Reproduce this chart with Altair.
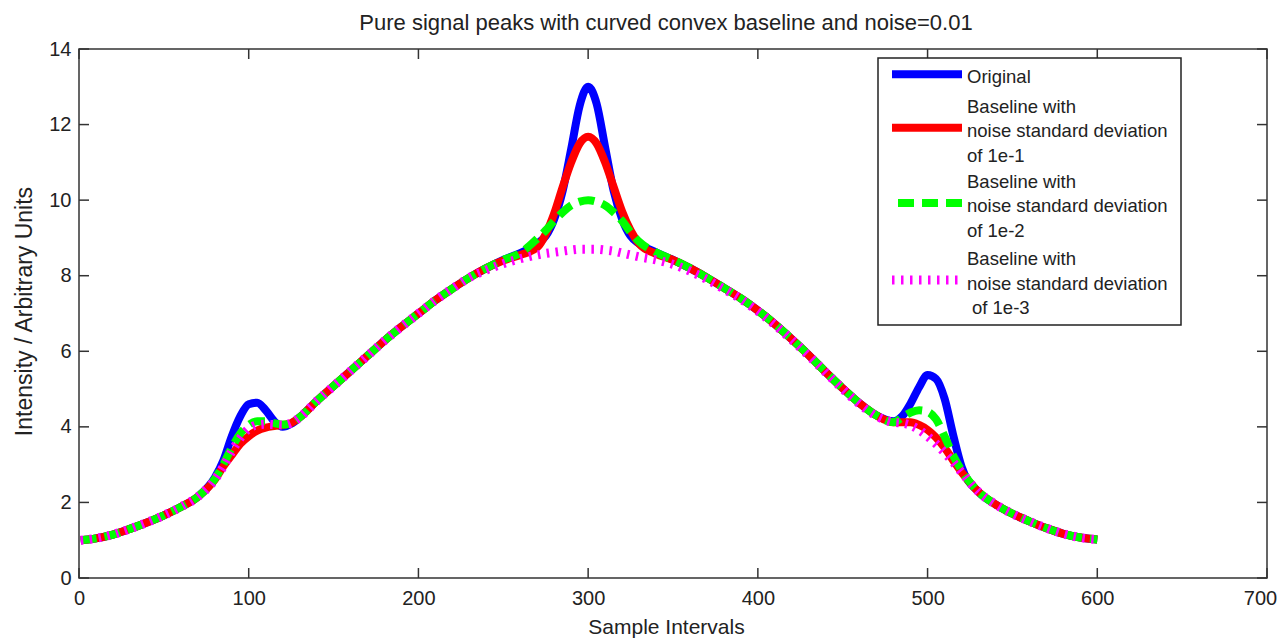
import altair as alt
import pandas as pd

# ---------------- data ----------------
x_vals = [1, 10, 20, 30, 40, 50, 60, 70, 80, 85, 90, 95, 100, 105, 110, 115, 120, 125, 130,
          140, 150, 160, 170, 180, 190, 200, 210, 220, 230, 240, 250, 260,
          270, 275, 280, 285, 290, 295, 300, 305, 310, 315, 320, 325, 330,
          340, 350, 360, 370, 380, 390, 400, 410, 420, 430, 440, 450, 460, 470, 480,
          485, 490, 495, 500, 505, 510, 515, 520,
          530, 540, 550, 560, 570, 580, 590, 600]

original = [1.0, 1.05, 1.15, 1.3, 1.47, 1.66, 1.88, 2.15, 2.65, 3.1, 3.75, 4.28, 4.6, 4.64, 4.44, 4.15, 4.0, 4.08, 4.25,
            4.68, 5.08, 5.48, 5.88, 6.28, 6.65, 7.0, 7.35, 7.66, 7.95, 8.2, 8.42, 8.6,
            8.85, 9.05, 9.5, 10.25, 11.35, 12.5, 13.0, 12.55, 11.4, 10.25, 9.5, 9.05, 8.85,
            8.62, 8.42, 8.2, 7.95, 7.68, 7.4, 7.08, 6.72, 6.32, 5.9, 5.45, 5.02, 4.62, 4.3, 4.15,
            4.28, 4.62, 5.05, 5.37, 5.27, 4.75, 3.8, 2.95,
            2.28, 1.95, 1.7, 1.5, 1.32, 1.17, 1.07, 1.02]

noise_1e1 = [1.0, 1.05, 1.15, 1.3, 1.47, 1.66, 1.88, 2.15, 2.6, 2.95, 3.25, 3.55, 3.75, 3.9, 3.98, 4.02, 4.05, 4.1, 4.25,
             4.68, 5.08, 5.48, 5.88, 6.28, 6.65, 7.0, 7.35, 7.66, 7.95, 8.2, 8.4, 8.55,
             8.75, 9.1, 9.65, 10.35, 11.0, 11.5, 11.68, 11.5, 11.0, 10.35, 9.7, 9.2, 8.85,
             8.58, 8.42, 8.2, 7.95, 7.68, 7.4, 7.08, 6.72, 6.32, 5.9, 5.45, 5.02, 4.62, 4.3, 4.12,
             4.12, 4.12, 4.05, 3.92, 3.72, 3.45, 3.12, 2.8,
             2.28, 1.95, 1.7, 1.5, 1.32, 1.17, 1.07, 1.02]

noise_1e2 = [1.0, 1.05, 1.15, 1.3, 1.47, 1.66, 1.88, 2.15, 2.62, 3.0, 3.45, 3.82, 4.05, 4.15, 4.15, 4.1, 4.06, 4.1, 4.25,
             4.68, 5.08, 5.48, 5.88, 6.28, 6.65, 7.0, 7.35, 7.66, 7.95, 8.2, 8.42, 8.6,
             8.98, 9.2, 9.45, 9.68, 9.86, 9.96, 10.0, 9.96, 9.86, 9.68, 9.45, 9.15, 8.9,
             8.62, 8.42, 8.2, 7.95, 7.68, 7.4, 7.08, 6.72, 6.32, 5.9, 5.45, 5.02, 4.62, 4.3, 4.12,
             4.25, 4.38, 4.44, 4.4, 4.2, 3.75, 3.25, 2.85,
             2.28, 1.95, 1.7, 1.5, 1.32, 1.17, 1.07, 1.02]

noise_1e3 = [1.0, 1.05, 1.15, 1.3, 1.47, 1.66, 1.88, 2.15, 2.6, 2.95, 3.35, 3.7, 3.95, 4.05, 4.07, 4.06, 4.05, 4.1, 4.25,
             4.68, 5.08, 5.48, 5.88, 6.28, 6.65, 7.0, 7.35, 7.66, 7.95, 8.15, 8.32, 8.45,
             8.55, 8.59, 8.62, 8.65, 8.68, 8.7, 8.7, 8.7, 8.68, 8.65, 8.6, 8.55, 8.5,
             8.42, 8.3, 8.12, 7.9, 7.65, 7.38, 7.06, 6.7, 6.3, 5.88, 5.44, 5.0, 4.6, 4.28, 4.12,
             4.1, 4.04, 3.92, 3.75, 3.55, 3.32, 3.07, 2.8,
             2.28, 1.95, 1.7, 1.5, 1.32, 1.17, 1.07, 1.02]

series_names = ["Original",
                "Baseline with noise standard deviation of 1e-1",
                "Baseline with noise standard deviation of 1e-2",
                "Baseline with noise standard deviation of 1e-3"]
legend_lines = [["Original"],
                ["Baseline with", "noise standard deviation", "of 1e-1"],
                ["Baseline with", "noise standard deviation", "of 1e-2"],
                ["Baseline with", "noise standard deviation"]]
legend_extra = "of 1e-3"   # last line of the last entry, slightly indented in the reference
series_colors = ["#0000FF", "#FF0000", "#00FF00", "#FF00FF"]

x_ticks = [0, 100, 200, 300, 400, 500, 600, 700]
y_ticks = [0, 2, 4, 6, 8, 10, 12, 14]

title_text = "Pure signal peaks with curved convex baseline and noise=0.01"
x_title = "Sample Intervals"
y_title = "Intensity / Arbitrary Units"

# ---------------- layout / style ----------------
W, H = 1188, 529
FONT = "Liberation Sans"
INK = "#222222"
xs = alt.Scale(domain=[0, 700], nice=False, zero=False)
ys = alt.Scale(domain=[0, 14], nice=False, zero=False)

styles = [
    dict(strokeWidth=8),
    dict(strokeWidth=8),
    dict(strokeWidth=8, strokeDash=[16, 8]),
    dict(strokeWidth=9, strokeDash=[2.5, 6.5]),
]

x_axis = alt.Axis(values=x_ticks, format="d", ticks=False, tickSize=0, domain=False, grid=False,
                  labelFont=FONT, labelFontSize=20, labelColor=INK, labelPadding=10,
                  labelFlush=False, labelOverlap=False,
                  labelOffset={"condition": {"test": "datum.value >= 700", "value": -7}, "value": 0},
                  title=x_title, titleFont=FONT, titleFontSize=21, titleFontWeight="normal",
                  titleColor=INK, titleX=587, titleY=55, titleBaseline="alphabetic")
y_axis = alt.Axis(values=y_ticks, format="d", ticks=False, tickSize=0, domain=False, grid=False,
                  labelFont=FONT, labelFontSize=20, labelColor=INK, labelPadding=8,
                  labelFlush=False, labelOverlap=False,
                  title=y_title, titleFont=FONT, titleFontSize=23, titleFontWeight="normal",
                  titleColor=INK, titleAngle=270, titleX=-48, titleY=262,
                  titleAlign="center", titleBaseline="alphabetic")

all_vals = [original, noise_1e1, noise_1e2, noise_1e3]
layers = []
for i, (name, vals, col, st) in enumerate(zip(series_names, all_vals, series_colors, styles)):
    df = pd.DataFrame({"x": x_vals, "y": vals, "series": name})
    if i == 0:
        xe = alt.X("x:Q", scale=xs, axis=x_axis)
        ye = alt.Y("y:Q", scale=ys, axis=y_axis)
    else:
        xe = alt.X("x:Q", scale=xs)
        ye = alt.Y("y:Q", scale=ys)
    layers.append(
        alt.Chart(df).mark_line(color=col, interpolate="monotone", strokeCap="butt",
                                strokeJoin="round", clip=True, **st).encode(x=xe, y=ye)
    )

# inward tick marks on all four sides (MATLAB style)
xt = pd.DataFrame({"x": x_ticks})
yt = pd.DataFrame({"y": y_ticks})
tick_style = dict(color="#333333", strokeWidth=1.5)
layers += [
    alt.Chart(xt).mark_rule(**tick_style).encode(x=alt.X("x:Q", scale=xs),
                                                 y=alt.value(H), y2=alt.value(H - 10)),
    alt.Chart(xt).mark_rule(**tick_style).encode(x=alt.X("x:Q", scale=xs),
                                                 y=alt.value(0), y2=alt.value(10)),
    alt.Chart(yt).mark_rule(**tick_style).encode(y=alt.Y("y:Q", scale=ys),
                                                 x=alt.value(0), x2=alt.value(10)),
    alt.Chart(yt).mark_rule(**tick_style).encode(y=alt.Y("y:Q", scale=ys),
                                                 x=alt.value(W), x2=alt.value(W - 10)),
]

one = pd.DataFrame({"k": [0]})
# plot frame
layers.append(
    alt.Chart(one).mark_rect(fill=None, fillOpacity=0, stroke="#333333", strokeWidth=1.5).encode(
        x=alt.value(0), x2=alt.value(W), y=alt.value(0), y2=alt.value(H))
)
# chart title
layers.append(
    alt.Chart(one).mark_text(align="center", baseline="alphabetic", font=FONT, fontSize=22,
                             color=INK).encode(x=alt.value(587), y=alt.value(-19),
                                               text=alt.value(title_text))
)

# legend box
layers.append(
    alt.Chart(one).mark_rect(fill="white", stroke=INK, strokeWidth=1.5).encode(
        x=alt.value(799), x2=alt.value(1102), y=alt.value(9), y2=alt.value(276))
)
leg_line_y = [25.3, 78.7, 154, 231]
leg_text_y = [34.3, 63.7, 138.7, 216]
for name, col, st, ly, ty, lines in zip(series_names, series_colors, styles, leg_line_y,
                                       leg_text_y, legend_lines):
    st2 = dict(st)
    if "strokeDash" in st2 and st2["strokeDash"][0] > 10:
        st2["strokeDashOffset"] = 18
    layers.append(
        alt.Chart(pd.DataFrame({"series": [name]})).mark_rule(color=col, strokeCap="butt", **st2).encode(
            x=alt.value(813), x2=alt.value(883), y=alt.value(ly))
    )
    layers.append(
        alt.Chart(pd.DataFrame({"series": [name]})).mark_text(
            align="left", baseline="alphabetic", font=FONT, fontSize=18.5, color=INK,
            lineHeight=24.5).encode(
            x=alt.value(888), y=alt.value(ty), text=alt.value(lines))
    )
layers.append(
    alt.Chart(one).mark_text(align="left", baseline="alphabetic", font=FONT, fontSize=18.5,
                             color=INK).encode(x=alt.value(893), y=alt.value(216 + 2 * 24.5),
                                               text=alt.value(legend_extra))
)

chart = alt.layer(*layers).properties(
    width=W, height=H,
    background="white",
    autosize=alt.AutoSizeParams(type="none"),
    padding={"left": 71, "top": 41, "right": 10, "bottom": 60},
).configure_view(stroke=None)

chart.save("out.html", embed_options={"renderer": "svg", "actions": False})
